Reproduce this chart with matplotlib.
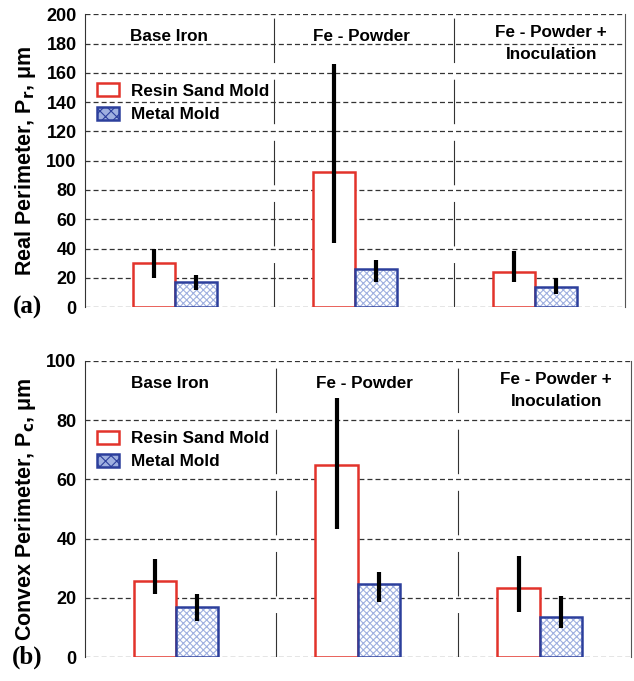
import matplotlib.pyplot as plt
import numpy as np
from matplotlib.patches import Patch

plt.rcParams['font.family'] = ['Liberation Sans', 'DejaVu Sans']
plt.rcParams['font.weight'] = 'bold'
plt.rcParams['lines.scale_dashes'] = False
plt.rcParams['hatch.linewidth'] = 0.8

groups = ["Base Iron", "Fe - Powder", "Fe - Powder +\nInoculation"]
series = ["Resin Sand Mold", "Metal Mold"]

# (a) real perimeter
real_sand = [30, 92, 24]
real_sand_lo = [20, 44, 17]
real_sand_hi = [40, 166, 38]
real_metal = [17.5, 26, 13.5]
real_metal_lo = [12, 17, 9]
real_metal_hi = [22, 32, 20]

# (b) convex perimeter
conv_sand = [25.7, 65, 23.3]
conv_sand_lo = [21.3, 43.2, 15.2]
conv_sand_hi = [33, 87.5, 34]
conv_metal = [16.9, 24.7, 13.5]
conv_metal_lo = [12.2, 18.6, 9.8]
conv_metal_hi = [21.3, 28.7, 20.6]

red = "#e2332b"
blue = "#2c3f9c"
hatch_blue = "#9fb0e0"

fig = plt.figure(figsize=(6.34, 6.81), dpi=100)
ax1 = fig.add_axes([0.134, 0.549, 0.852, 0.430])
ax2 = fig.add_axes([0.134, 0.035, 0.861, 0.435])


def draw(ax, sand, slo, shi, metal, mlo, mhi, ymax, ystep, ylabel, tag):
    x = np.arange(len(groups))
    w = 0.233
    s = np.array(sand)
    m = np.array(metal)
    ax.bar(x - w / 2, s, w, facecolor="white", edgecolor=red, linewidth=1.8, zorder=3)
    ax.bar(x + w / 2, m, w, facecolor="white", edgecolor=hatch_blue, hatch="xxxxx",
           linewidth=0, zorder=3)
    ax.bar(x + w / 2, m, w, facecolor="none", edgecolor=blue, linewidth=1.8, zorder=4)
    ax.errorbar(x - w / 2, s, yerr=[s - np.array(slo), np.array(shi) - s], fmt="none",
                ecolor="black", elinewidth=3, capsize=0, zorder=5)
    ax.errorbar(x + w / 2, m, yerr=[m - np.array(mlo), np.array(mhi) - m], fmt="none",
                ecolor="black", elinewidth=3, capsize=0, zorder=5)

    handles = [Patch(facecolor="white", edgecolor=red, linewidth=1.8),
               Patch(facecolor=hatch_blue, edgecolor=blue, linewidth=1.8, hatch="xxx")]
    ax.legend(handles, series, loc="upper left", bbox_to_anchor=(0.0, 0.805),
              frameon=False, fontsize=12.3, handlelength=1.3, handleheight=0.8,
              labelspacing=0.45, borderaxespad=0.3, handletextpad=0.7)

    ax.set_xlim(-0.5, 2.5)
    ax.set_ylim(0, ymax)
    ax.set_yticks(np.arange(0, ymax + 1, ystep))
    ax.set_xticks([])
    ax.tick_params(axis="y", length=0, labelsize=13, pad=6)
    for lab in ax.get_yticklabels():
        lab.set_fontweight("bold")
    for yv in np.arange(0, ymax + 1, ystep):
        ax.axhline(yv, color="#333333", linewidth=0.9, dashes=(3.6, 2.2), zorder=1)
    for sx in [0.55, 1.55]:
        ax.axvline(sx, color="#333333", linewidth=0.8, dashes=(32, 12), zorder=1)
    ax.spines["top"].set_visible(False)
    ax.spines["bottom"].set_visible(False)
    ax.spines["left"].set_color("#333333")
    ax.spines["right"].set_color("#555555")

    ax.text(-0.033, 0.925, groups[0], transform=ax.get_xaxis_transform(),
            ha="center", va="center", fontsize=12.3, fontweight="bold")
    ax.text(1.036, 0.925, groups[1], transform=ax.get_xaxis_transform(),
            ha="center", va="center", fontsize=12.3, fontweight="bold")
    ax.text(2.09, 0.90, groups[2], transform=ax.get_xaxis_transform(),
            ha="center", va="center", fontsize=12.3, fontweight="bold", linespacing=1.55)

    ax.set_ylabel(ylabel, fontsize=15.5, fontweight="bold", labelpad=6)
    ax.text(-0.133, 0.0, tag, transform=ax.transAxes, fontsize=18, fontweight="bold",
            family="Liberation Serif", ha="left", va="center")


draw(ax1, real_sand, real_sand_lo, real_sand_hi, real_metal, real_metal_lo, real_metal_hi,
     200, 20, r"Real Perimeter, P$_\mathbf{r}$, $\mathregular{\mu}$m", "(a)")
draw(ax2, conv_sand, conv_sand_lo, conv_sand_hi, conv_metal, conv_metal_lo, conv_metal_hi,
     100, 20, r"Convex Perimeter, P$_\mathbf{c}$, $\mathregular{\mu}$m", "(b)")

fig.savefig("out.png", dpi=100)
